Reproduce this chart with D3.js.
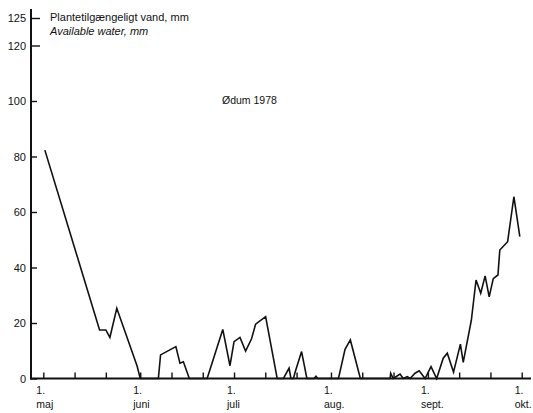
<!DOCTYPE html>
<html>
<head>
<meta charset="utf-8">
<script src="https://cdn.jsdelivr.net/npm/d3@7"></script>
<style>
  html, body { margin: 0; padding: 0; background: #fff; }
  svg { display: block; }
  text { font-family: "Liberation Sans", Arial, Helvetica, sans-serif; fill: #111; }
</style>
</head>
<body>
<svg id="chart" width="533" height="413"></svg>
<script>
// Plant-available water (mm), Ødum 1978, days counted from 1 May
const days = [0.5, 18, 20, 21.3, 23.5, 30, 31, 36.8, 37.5, 42.4, 43.7, 44.8, 46.7,
  52.4, 57.4, 59.7, 61, 62.9, 64.7, 66.6, 67.9, 71.1, 74.8, 76.8, 78.6, 79.2, 80.0,
  80.6, 82.6, 84.3, 86.6, 87.2, 87.8, 94.4, 96.5, 98.2, 101.4, 110.9, 111.1, 111.9,
  114.1, 115.1, 116.4, 117.3, 118.9, 120.2, 122.1, 124, 125.8, 127.9, 129.2, 131.2,
  133.4, 134.3, 136.9, 138.4, 139.9, 141.3, 142.6, 143.9, 145.4, 146, 148.5, 150.5, 152.4];
const water = [82.3, 17.5, 17.5, 14.8, 25.3, 4.5, 0, 0, 8.5, 11.5, 5.5, 6, 0,
  0, 17.7, 4.6, 13.3, 14.8, 9.9, 14.3, 19.6, 22.3, 0, 0, 3.7, 0, 0,
  2.5, 9.7, 0, 0, 0.8, 0, 0, 10.5, 13.9, 0, 0, 1.9, 0,
  1.6, 0, 0.7, 0, 1.9, 2.8, 0, 4.3, 0, 7.3, 9.1, 2.3,
  12.4, 5.8, 21, 35.5, 30.7, 37, 29.4, 36, 37.3, 46.3, 49.3, 65.5, 51.1];

const yTicks = [0, 20, 40, 60, 80, 100, 120, 125];
const monthStarts = [0, 31, 61, 92, 123, 153];
const monthNames = ["maj", "juni", "juli", "aug.", "sept.", "okt."];
const minorTicks = [10, 20, 41, 51, 71, 81, 102, 112, 133, 143];

const svg = d3.select("#chart");

const x = d3.scaleLinear().domain([0, 153]).range([43.3, 521.7]);
// upper part of the axis (120–125) is drawn with a stretched step
const y = d3.scaleLinear().domain([0, 120, 125]).range([378.5, 45.5, 18]);

const axisX = 31;
const baseY = y(0);

// y axis
const yAxis = d3.axisLeft(y)
  .tickValues(yTicks)
  .tickSizeInner(-6)
  .tickSizeOuter(0)
  .tickPadding(5)
  .tickFormat(d3.format("d"));

const gy = svg.append("g")
  .attr("transform", `translate(${axisX},0)`)
  .call(yAxis);
gy.select(".domain").remove();
gy.selectAll(".tick line")
  .attr("stroke", "#111")
  .attr("stroke-width", 1.4)
  .attr("x2", d => d >= 120 ? 9 : 6);
gy.selectAll(".tick text")
  .style("font-size", "11px")
  .style("font-family", "\"Liberation Sans\", Arial, sans-serif")
  .attr("fill", "#111");

svg.append("line")
  .attr("x1", axisX).attr("x2", axisX)
  .attr("y1", y(125) - 9).attr("y2", baseY + 1)
  .attr("stroke", "#111").attr("stroke-width", 2);

// x axis with ticks pointing up
const xAxis = d3.axisBottom(x)
  .tickValues(monthStarts.concat(minorTicks))
  .tickSizeInner(-6)
  .tickSizeOuter(0)
  .tickFormat("");

const gx = svg.append("g")
  .attr("transform", `translate(0,${baseY})`)
  .call(xAxis);
gx.select(".domain").remove();
gx.selectAll(".tick line").attr("stroke", "#111").attr("stroke-width", 1.4);

svg.append("line")
  .attr("x1", axisX - 1).attr("x2", 531)
  .attr("y1", baseY).attr("y2", baseY)
  .attr("stroke", "#111").attr("stroke-width", 2);

// month labels
const ml = svg.append("g").selectAll("g")
  .data(monthStarts)
  .join("g")
  .attr("transform", d => `translate(${x(d) - 7},0)`);
ml.append("text")
  .attr("y", 394)
  .style("font-size", "10.5px")
  .text("1.");
ml.append("text")
  .attr("y", 408)
  .style("font-size", "10.5px")
  .text((d, i) => monthNames[i]);

// data line
const pts = days.map((d, i) => [d, water[i]]);
const line = d3.line().x(d => x(d[0])).y(d => y(d[1]));
svg.append("path")
  .datum(pts)
  .attr("d", line)
  .attr("fill", "none")
  .attr("stroke", "#111")
  .attr("stroke-width", 1.6)
  .attr("stroke-linejoin", "miter");

// titles
svg.append("text")
  .attr("x", 50).attr("y", 21)
  .style("font-size", "11px")
  .text("Plantetilgængeligt vand, mm");
svg.append("text")
  .attr("x", 50).attr("y", 35)
  .style("font-size", "11px")
  .style("font-style", "italic")
  .text("Available water, mm");
svg.append("text")
  .attr("x", 222).attr("y", 104)
  .style("font-size", "10.5px")
  .text("Ødum 1978");
</script>
</body>
</html>
